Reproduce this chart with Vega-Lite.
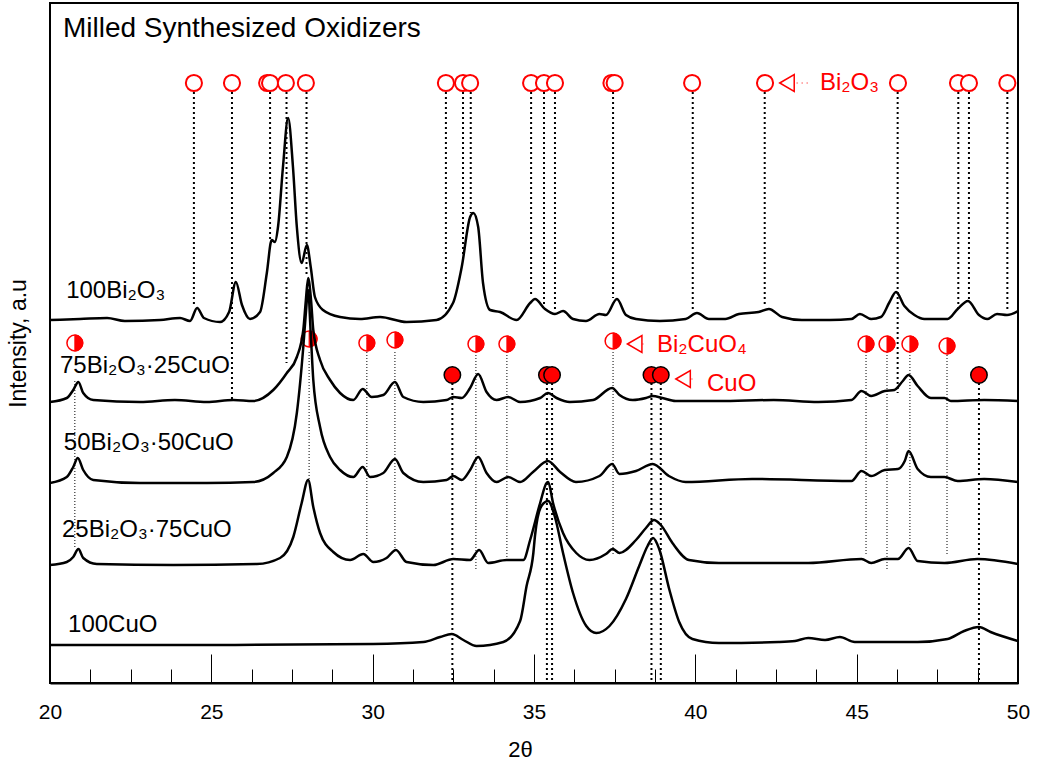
{
 "$schema": "https://vega.github.io/schema/vega-lite/v6.json",
 "width": 968, "height": 680,
 "autosize": {"type": "none"},
 "padding": {"left": 50, "top": 3, "right": 19, "bottom": 78},
 "background": "white",
 "config": {"font": "Liberation Sans", "view": {"stroke": "black", "strokeWidth": 2}, "axis": {"grid": false}},
 "datasets": {
  "traces": [
   {"s":"100Bi2O3","t":20.00,"i":363},{"s":"100Bi2O3","t":20.93,"i":364},{"s":"100Bi2O3","t":21.77,"i":365},{"s":"100Bi2O3","t":22.32,"i":362},{"s":"100Bi2O3","t":23.41,"i":363},{"s":"100Bi2O3","t":24.03,"i":365},{"s":"100Bi2O3","t":24.34,"i":362},{"s":"100Bi2O3","t":24.56,"i":375},{"s":"100Bi2O3","t":24.77,"i":365},{"s":"100Bi2O3","t":25.27,"i":361},{"s":"100Bi2O3","t":25.55,"i":371},{"s":"100Bi2O3","t":25.76,"i":401},{"s":"100Bi2O3","t":25.95,"i":378},{"s":"100Bi2O3","t":26.20,"i":364},{"s":"100Bi2O3","t":26.51,"i":371},{"s":"100Bi2O3","t":26.72,"i":410},{"s":"100Bi2O3","t":26.87,"i":443},{"s":"100Bi2O3","t":26.97,"i":441},{"s":"100Bi2O3","t":27.07,"i":457},{"s":"100Bi2O3","t":27.22,"i":516},{"s":"100Bi2O3","t":27.38,"i":565},{"s":"100Bi2O3","t":27.53,"i":516},{"s":"100Bi2O3","t":27.65,"i":456},{"s":"100Bi2O3","t":27.80,"i":420},{"s":"100Bi2O3","t":27.96,"i":438},{"s":"100Bi2O3","t":28.08,"i":416},{"s":"100Bi2O3","t":28.21,"i":386},{"s":"100Bi2O3","t":28.46,"i":373},{"s":"100Bi2O3","t":28.99,"i":366},{"s":"100Bi2O3","t":29.61,"i":364},{"s":"100Bi2O3","t":30.23,"i":366},{"s":"100Bi2O3","t":31.05,"i":361},{"s":"100Bi2O3","t":31.98,"i":363},{"s":"100Bi2O3","t":32.49,"i":380},{"s":"100Bi2O3","t":32.76,"i":416},{"s":"100Bi2O3","t":33.02,"i":466},{"s":"100Bi2O3","t":33.12,"i":470},{"s":"100Bi2O3","t":33.27,"i":456},{"s":"100Bi2O3","t":33.42,"i":400},{"s":"100Bi2O3","t":33.64,"i":373},{"s":"100Bi2O3","t":33.95,"i":371},{"s":"100Bi2O3","t":34.46,"i":363},{"s":"100Bi2O3","t":34.88,"i":380},{"s":"100Bi2O3","t":35.03,"i":384},{"s":"100Bi2O3","t":35.34,"i":374},{"s":"100Bi2O3","t":35.65,"i":369},{"s":"100Bi2O3","t":35.90,"i":372},{"s":"100Bi2O3","t":36.21,"i":364},{"s":"100Bi2O3","t":36.61,"i":362},{"s":"100Bi2O3","t":37.03,"i":369},{"s":"100Bi2O3","t":37.23,"i":368},{"s":"100Bi2O3","t":37.57,"i":384},{"s":"100Bi2O3","t":37.85,"i":368},{"s":"100Bi2O3","t":38.16,"i":364},{"s":"100Bi2O3","t":38.90,"i":362},{"s":"100Bi2O3","t":39.70,"i":364},{"s":"100Bi2O3","t":40.05,"i":370},{"s":"100Bi2O3","t":40.42,"i":364},{"s":"100Bi2O3","t":40.93,"i":364},{"s":"100Bi2O3","t":41.35,"i":369},{"s":"100Bi2O3","t":41.96,"i":371},{"s":"100Bi2O3","t":42.28,"i":374},{"s":"100Bi2O3","t":42.69,"i":366},{"s":"100Bi2O3","t":43.30,"i":363},{"s":"100Bi2O3","t":44.17,"i":363},{"s":"100Bi2O3","t":44.84,"i":364},{"s":"100Bi2O3","t":45.10,"i":369},{"s":"100Bi2O3","t":45.45,"i":364},{"s":"100Bi2O3","t":45.75,"i":366},{"s":"100Bi2O3","t":46.02,"i":381},{"s":"100Bi2O3","t":46.22,"i":391},{"s":"100Bi2O3","t":46.48,"i":377},{"s":"100Bi2O3","t":46.79,"i":368},{"s":"100Bi2O3","t":47.10,"i":364},{"s":"100Bi2O3","t":47.82,"i":364},{"s":"100Bi2O3","t":48.13,"i":374},{"s":"100Bi2O3","t":48.45,"i":382},{"s":"100Bi2O3","t":48.79,"i":368},{"s":"100Bi2O3","t":49.05,"i":364},{"s":"100Bi2O3","t":49.35,"i":369},{"s":"100Bi2O3","t":49.66,"i":368},{"s":"100Bi2O3","t":50.00,"i":372},

   {"s":"75","t":20.00,"i":281},{"s":"75","t":20.52,"i":285},{"s":"75","t":20.72,"i":293},{"s":"75","t":20.88,"i":301},{"s":"75","t":21.03,"i":290},{"s":"75","t":21.34,"i":283},{"s":"75","t":22.79,"i":281},{"s":"75","t":23.87,"i":283},{"s":"75","t":24.86,"i":281},{"s":"75","t":25.68,"i":283},{"s":"75","t":26.30,"i":282},{"s":"75","t":26.92,"i":293},{"s":"75","t":27.34,"i":310},{"s":"75","t":27.65,"i":326},{"s":"75","t":27.85,"i":353},{"s":"75","t":27.93,"i":383},{"s":"75","t":28.00,"i":405},{"s":"75","t":28.09,"i":383},{"s":"75","t":28.16,"i":353},{"s":"75","t":28.37,"i":323},{"s":"75","t":28.68,"i":303},{"s":"75","t":28.99,"i":290},{"s":"75","t":29.40,"i":283},{"s":"75","t":29.69,"i":294},{"s":"75","t":29.97,"i":286},{"s":"75","t":30.33,"i":288},{"s":"75","t":30.69,"i":301},{"s":"75","t":30.95,"i":286},{"s":"75","t":31.57,"i":281},{"s":"75","t":32.29,"i":283},{"s":"75","t":32.50,"i":286},{"s":"75","t":32.76,"i":285},{"s":"75","t":33.02,"i":295},{"s":"75","t":33.27,"i":309},{"s":"75","t":33.53,"i":291},{"s":"75","t":33.84,"i":283},{"s":"75","t":34.20,"i":286},{"s":"75","t":34.57,"i":281},{"s":"75","t":35.19,"i":285},{"s":"75","t":35.43,"i":290},{"s":"75","t":35.70,"i":285},{"s":"75","t":36.11,"i":281},{"s":"75","t":36.83,"i":283},{"s":"75","t":37.42,"i":295},{"s":"75","t":37.65,"i":288},{"s":"75","t":38.06,"i":283},{"s":"75","t":38.47,"i":285},{"s":"75","t":38.68,"i":287},{"s":"75","t":38.98,"i":285},{"s":"75","t":39.39,"i":282},{"s":"75","t":40.73,"i":282},{"s":"75","t":42.43,"i":283},{"s":"75","t":43.81,"i":281},{"s":"75","t":44.84,"i":283},{"s":"75","t":45.15,"i":292},{"s":"75","t":45.45,"i":287},{"s":"75","t":45.87,"i":292},{"s":"75","t":46.17,"i":293},{"s":"75","t":46.43,"i":302},{"s":"75","t":46.61,"i":308},{"s":"75","t":46.89,"i":297},{"s":"75","t":47.30,"i":285},{"s":"75","t":47.72,"i":285},{"s":"75","t":47.92,"i":282},{"s":"75","t":48.95,"i":283},{"s":"75","t":50.00,"i":282},

   {"s":"50","t":20.00,"i":200},{"s":"50","t":20.52,"i":206},{"s":"50","t":20.72,"i":216},{"s":"50","t":20.86,"i":225},{"s":"50","t":21.03,"i":213},{"s":"50","t":21.34,"i":203},{"s":"50","t":22.79,"i":200},{"s":"50","t":24.86,"i":200},{"s":"50","t":26.30,"i":201},{"s":"50","t":26.92,"i":210},{"s":"50","t":27.34,"i":226},{"s":"50","t":27.65,"i":270},{"s":"50","t":27.85,"i":336},{"s":"50","t":27.93,"i":370},{"s":"50","t":28.00,"i":393},{"s":"50","t":28.08,"i":350},{"s":"50","t":28.16,"i":303},{"s":"50","t":28.37,"i":256},{"s":"50","t":28.68,"i":226},{"s":"50","t":28.99,"i":213},{"s":"50","t":29.40,"i":206},{"s":"50","t":29.69,"i":216},{"s":"50","t":29.92,"i":206},{"s":"50","t":30.33,"i":210},{"s":"50","t":30.69,"i":224},{"s":"50","t":30.95,"i":210},{"s":"50","t":31.57,"i":201},{"s":"50","t":32.29,"i":203},{"s":"50","t":32.50,"i":207},{"s":"50","t":32.76,"i":203},{"s":"50","t":33.02,"i":213},{"s":"50","t":33.27,"i":226},{"s":"50","t":33.53,"i":210},{"s":"50","t":33.84,"i":201},{"s":"50","t":34.20,"i":206},{"s":"50","t":34.57,"i":201},{"s":"50","t":34.97,"i":211},{"s":"50","t":35.43,"i":222},{"s":"50","t":35.81,"i":211},{"s":"50","t":36.30,"i":201},{"s":"50","t":37.03,"i":207},{"s":"50","t":37.42,"i":219},{"s":"50","t":37.65,"i":209},{"s":"50","t":38.16,"i":212},{"s":"50","t":38.68,"i":219},{"s":"50","t":39.18,"i":207},{"s":"50","t":39.70,"i":201},{"s":"50","t":41.76,"i":204},{"s":"50","t":44.84,"i":202},{"s":"50","t":45.15,"i":212},{"s":"50","t":45.45,"i":207},{"s":"50","t":45.87,"i":213},{"s":"50","t":46.28,"i":214},{"s":"50","t":46.49,"i":222},{"s":"50","t":46.61,"i":232},{"s":"50","t":46.89,"i":214},{"s":"50","t":47.30,"i":206},{"s":"50","t":47.72,"i":206},{"s":"50","t":48.13,"i":202},{"s":"50","t":48.95,"i":204},{"s":"50","t":50.00,"i":201},

   {"s":"25","t":20.00,"i":118},{"s":"25","t":20.52,"i":121},{"s":"25","t":20.72,"i":126},{"s":"25","t":20.88,"i":134},{"s":"25","t":21.03,"i":125},{"s":"25","t":21.45,"i":119},{"s":"25","t":23.82,"i":118},{"s":"25","t":26.41,"i":119},{"s":"25","t":27.13,"i":125},{"s":"25","t":27.54,"i":146},{"s":"25","t":27.80,"i":180},{"s":"25","t":28.00,"i":203},{"s":"25","t":28.16,"i":176},{"s":"25","t":28.37,"i":150},{"s":"25","t":28.78,"i":131},{"s":"25","t":29.30,"i":123},{"s":"25","t":29.71,"i":129},{"s":"25","t":30.02,"i":121},{"s":"25","t":30.43,"i":125},{"s":"25","t":30.72,"i":133},{"s":"25","t":31.05,"i":121},{"s":"25","t":31.88,"i":118},{"s":"25","t":32.50,"i":124},{"s":"25","t":33.02,"i":123},{"s":"25","t":33.30,"i":133},{"s":"25","t":33.58,"i":120},{"s":"25","t":34.15,"i":123},{"s":"25","t":34.67,"i":123},{"s":"25","t":34.88,"i":143},{"s":"25","t":35.19,"i":180},{"s":"25","t":35.39,"i":200},{"s":"25","t":35.44,"i":201},{"s":"25","t":35.59,"i":180},{"s":"25","t":35.90,"i":150},{"s":"25","t":36.31,"i":130},{"s":"25","t":36.72,"i":123},{"s":"25","t":37.23,"i":129},{"s":"25","t":37.44,"i":134},{"s":"25","t":37.65,"i":130},{"s":"25","t":38.16,"i":143},{"s":"25","t":38.47,"i":155},{"s":"25","t":38.72,"i":163},{"s":"25","t":38.93,"i":158},{"s":"25","t":39.29,"i":140},{"s":"25","t":39.80,"i":123},{"s":"25","t":40.73,"i":120},{"s":"25","t":43.50,"i":120},{"s":"25","t":45.15,"i":124},{"s":"25","t":45.45,"i":120},{"s":"25","t":45.87,"i":124},{"s":"25","t":46.28,"i":124},{"s":"25","t":46.61,"i":135},{"s":"25","t":46.89,"i":122},{"s":"25","t":47.72,"i":120},{"s":"25","t":48.74,"i":124},{"s":"25","t":50.00,"i":119},

   {"s":"100CuO","t":20.00,"i":38},{"s":"100CuO","t":24.86,"i":38},{"s":"100CuO","t":30.02,"i":39},{"s":"100CuO","t":31.57,"i":41},{"s":"100CuO","t":32.09,"i":46},{"s":"100CuO","t":32.45,"i":49},{"s":"100CuO","t":32.81,"i":43},{"s":"100CuO","t":33.22,"i":37},{"s":"100CuO","t":34.05,"i":41},{"s":"100CuO","t":34.57,"i":62},{"s":"100CuO","t":34.77,"i":97},{"s":"100CuO","t":34.98,"i":130},{"s":"100CuO","t":35.03,"i":147},{"s":"100CuO","t":35.23,"i":177},{"s":"100CuO","t":35.44,"i":182},{"s":"100CuO","t":35.64,"i":167},{"s":"100CuO","t":35.90,"i":130},{"s":"100CuO","t":36.21,"i":90},{"s":"100CuO","t":36.62,"i":57},{"s":"100CuO","t":36.93,"i":50},{"s":"100CuO","t":37.34,"i":57},{"s":"100CuO","t":37.85,"i":84},{"s":"100CuO","t":38.26,"i":117},{"s":"100CuO","t":38.52,"i":137},{"s":"100CuO","t":38.69,"i":145},{"s":"100CuO","t":38.88,"i":134},{"s":"100CuO","t":39.19,"i":94},{"s":"100CuO","t":39.50,"i":61},{"s":"100CuO","t":39.91,"i":44},{"s":"100CuO","t":40.73,"i":40},{"s":"100CuO","t":42.58,"i":41},{"s":"100CuO","t":43.09,"i":42},{"s":"100CuO","t":43.50,"i":45},{"s":"100CuO","t":44.02,"i":43},{"s":"100CuO","t":44.48,"i":46},{"s":"100CuO","t":44.94,"i":41},{"s":"100CuO","t":46.89,"i":41},{"s":"100CuO","t":47.82,"i":44},{"s":"100CuO","t":48.33,"i":52},{"s":"100CuO","t":48.79,"i":56},{"s":"100CuO","t":49.15,"i":51},{"s":"100CuO","t":50.00,"i":42}
  ],
  "bi2o3": [
   {"t":24.46,"i":600},{"t":25.64,"i":600},{"t":26.73,"i":600},{"t":26.82,"i":600},{"t":27.31,"i":600},{"t":27.93,"i":600},{"t":32.27,"i":600},{"t":32.80,"i":600},{"t":33.02,"i":600},{"t":34.91,"i":600},{"t":35.31,"i":600},{"t":35.65,"i":600},{"t":37.40,"i":600},{"t":37.50,"i":600},{"t":39.90,"i":600},{"t":42.16,"i":600},{"t":46.28,"i":600},{"t":48.14,"i":600},{"t":48.48,"i":600},{"t":49.67,"i":600}
  ],
  "bi2o3_lines": [
   {"t":24.46,"i":591,"i2":376},{"t":25.64,"i":591,"i2":283},{"t":26.82,"i":591,"i2":443},{"t":27.33,"i":591,"i2":320},{"t":27.95,"i":591,"i2":408},{"t":32.27,"i":591,"i2":373},{"t":32.80,"i":591,"i2":421},{"t":33.04,"i":591,"i2":470},{"t":34.91,"i":591,"i2":387},{"t":35.31,"i":591,"i2":378},{"t":35.65,"i":591,"i2":373},{"t":37.45,"i":591,"i2":385},{"t":39.92,"i":591,"i2":371},{"t":42.15,"i":591,"i2":376},{"t":46.27,"i":591,"i2":290},{"t":48.15,"i":591,"i2":373},{"t":48.48,"i":591,"i2":383},{"t":49.67,"i":591,"i2":373}
  ],
  "bicuo": [
   {"t":20.77,"i":340},{"t":28.03,"i":344},{"t":29.82,"i":340},{"t":30.69,"i":343},{"t":33.20,"i":339},{"t":34.16,"i":339},{"t":37.45,"i":342},{"t":45.29,"i":339},{"t":45.94,"i":339},{"t":46.65,"i":339},{"t":47.80,"i":337}
  ],
  "bicuo_lines": [
   {"t":20.77,"i":302,"i2":135},{"t":28.03,"i":331,"i2":203},{"t":29.82,"i":331,"i2":130},{"t":30.69,"i":331,"i2":133},{"t":33.20,"i":331,"i2":113},{"t":34.16,"i":331,"i2":126},{"t":37.45,"i":331,"i2":127},{"t":45.29,"i":331,"i2":127},{"t":45.94,"i":331,"i2":114},{"t":46.65,"i":331,"i2":137},{"t":47.80,"i":331,"i2":127}
  ],
  "cuo": [
   {"t":32.47,"i":308},{"t":35.40,"i":308},{"t":35.56,"i":308},{"t":38.64,"i":308},{"t":38.93,"i":308},{"t":48.79,"i":308}
  ],
  "cuo_lines": [
   {"t":32.47,"i":300,"i2":0},{"t":35.40,"i":300,"i2":0},{"t":35.56,"i":300,"i2":0},{"t":38.64,"i":300,"i2":0},{"t":38.93,"i":300,"i2":0},{"t":48.79,"i":300,"i2":0}
  ],
  "pointers": [
   {"t":42.84,"i":600},{"t":38.12,"i":339},{"t":39.62,"i":304}
  ],
  "leaders": [
   {"t":43.14,"t2":43.55,"i":600},{"t":38.36,"t2":38.48,"i":339},{"t":39.88,"t2":40.02,"i":304}
  ],
  "black_labels": [
   {"t":20.50,"i":385,"label":"100Bi₂O₃"},{"t":20.31,"i":310,"label":"75Bi₂O₃·25CuO"},{"t":20.43,"i":233,"label":"50Bi₂O₃·50CuO"},{"t":20.37,"i":146,"label":"25Bi₂O₃·75CuO"},{"t":20.56,"i":51,"label":"100CuO"}
  ],
  "title": [{"t":20.40,"i":646,"label":"Milled Synthesized Oxidizers"}],
  "red_labels": [
   {"t":43.86,"i":593,"label":"Bi₂O₃"},{"t":38.81,"i":331,"label":"Bi₂CuO₄"},{"t":40.36,"i":292,"label":"CuO"}
  ]
 },
 "encoding": {
  "x": {"field": "t", "type": "quantitative", "scale": {"domain": [20, 50], "nice": false, "zero": false}, "axis": null},
  "y": {"field": "i", "type": "quantitative", "scale": {"domain": [0, 680], "nice": false, "zero": false}, "axis": null}
 },
 "resolve": {"axis": {"x": "independent", "y": "independent"}},
 "layer": [
  {
   "data": {"name": "bi2o3_lines"},
   "mark": {"type": "rule", "color": "black", "strokeWidth": 2, "strokeDash": [2, 3]},
   "encoding": {
    "x": {"field": "t", "type": "quantitative", "scale": {"domain": [20, 50], "nice": false, "zero": false},
      "axis": {"orient": "bottom", "values": [21.25,22.5,23.75,26.25,27.5,28.75,31.25,32.5,33.75,36.25,37.5,38.75,41.25,42.5,43.75,46.25,47.5,48.75], "tickSize": -14, "tickColor": "black", "tickWidth": 1, "labels": false, "domain": false, "title": null, "grid": false}},
    "y2": {"field": "i2"}
   }
  },
  {
   "data": {"name": "bicuo_lines"},
   "mark": {"type": "rule", "color": "black", "strokeWidth": 1, "strokeDash": [1, 2]},
   "encoding": {"y2": {"field": "i2"}}
  },
  {
   "data": {"name": "cuo_lines"},
   "mark": {"type": "rule", "color": "black", "strokeWidth": 2, "strokeDash": [2, 3]},
   "encoding": {"y2": {"field": "i2"}}
  },
  {
   "data": {"name": "bi2o3"},
   "mark": {"type": "point", "shape": "circle", "filled": true, "fill": "white", "stroke": "#FF0000", "strokeWidth": 2, "size": 260, "opacity": 1}
  },
  {
   "data": {"name": "bicuo"},
   "mark": {"type": "point", "shape": "circle", "filled": true, "fill": "white", "stroke": "#FF0000", "strokeWidth": 1.5, "size": 250, "opacity": 1}
  },
  {
   "data": {"name": "bicuo"},
   "mark": {"type": "point", "shape": "M0,-1A1,1,0,0,1,0,1Z", "filled": true, "fill": "#FF0000", "stroke": "#FF0000", "strokeWidth": 1, "size": 250, "opacity": 1}
  },
  {
   "data": {"name": "cuo"},
   "mark": {"type": "point", "shape": "circle", "filled": true, "fill": "#FF0000", "stroke": "black", "strokeWidth": 1.5, "size": 270, "opacity": 1}
  },
  {
   "data": {"name": "traces"},
   "mark": {"type": "line", "color": "black", "strokeWidth": 2.5, "strokeJoin": "round", "interpolate": "monotone"},
   "encoding": {
    "x": {"field": "t", "type": "quantitative", "scale": {"domain": [20, 50], "nice": false, "zero": false},
      "axis": {"orient": "bottom", "values": [20,25,30,35,40,45,50], "format": "d", "tickSize": -29, "tickColor": "black", "tickWidth": 1, "domain": true, "domainColor": "black", "domainWidth": 2, "labelFontSize": 21, "labelColor": "black", "labelPadding": 47, "labelFlush": false, "labelFont": "Liberation Sans", "title": "2θ", "titleFontSize": 22, "titleFontWeight": "normal", "titleColor": "black", "titlePadding": 17, "titleX": 470, "titleFont": "Liberation Sans", "grid": false}},
    "y": {"field": "i", "type": "quantitative", "scale": {"domain": [0, 680], "nice": false, "zero": false},
      "axis": {"orient": "left", "ticks": false, "labels": false, "domain": false, "grid": false, "title": "Intensity, a.u", "titleFontSize": 23, "titleFontWeight": "normal", "titleColor": "black", "titlePadding": 20, "titleFont": "Liberation Sans"}},
    "detail": {"field": "s"}
   }
  },
  {
   "data": {"name": "pointers"},
   "mark": {"type": "point", "shape": "triangle-left", "filled": false, "stroke": "#FF0000", "strokeWidth": 1.5, "size": 280, "opacity": 1}
  },
  {
   "data": {"name": "leaders"},
   "mark": {"type": "rule", "color": "#FF0000", "strokeWidth": 1, "strokeDash": [1, 4]},
   "encoding": {"x2": {"field": "t2"}}
  },
  {
   "data": {"name": "black_labels"},
   "mark": {"type": "text", "align": "left", "baseline": "alphabetic", "fontSize": 24, "font": "Liberation Sans", "color": "black"},
   "encoding": {"text": {"field": "label"}}
  },
  {
   "data": {"name": "title"},
   "mark": {"type": "text", "align": "left", "baseline": "alphabetic", "fontSize": 28, "font": "Liberation Sans", "color": "black"},
   "encoding": {"text": {"field": "label"}}
  },
  {
   "data": {"name": "red_labels"},
   "mark": {"type": "text", "align": "left", "baseline": "alphabetic", "fontSize": 24, "font": "Liberation Sans", "color": "#FF0000"},
   "encoding": {"text": {"field": "label"}}
  }
 ]
}
